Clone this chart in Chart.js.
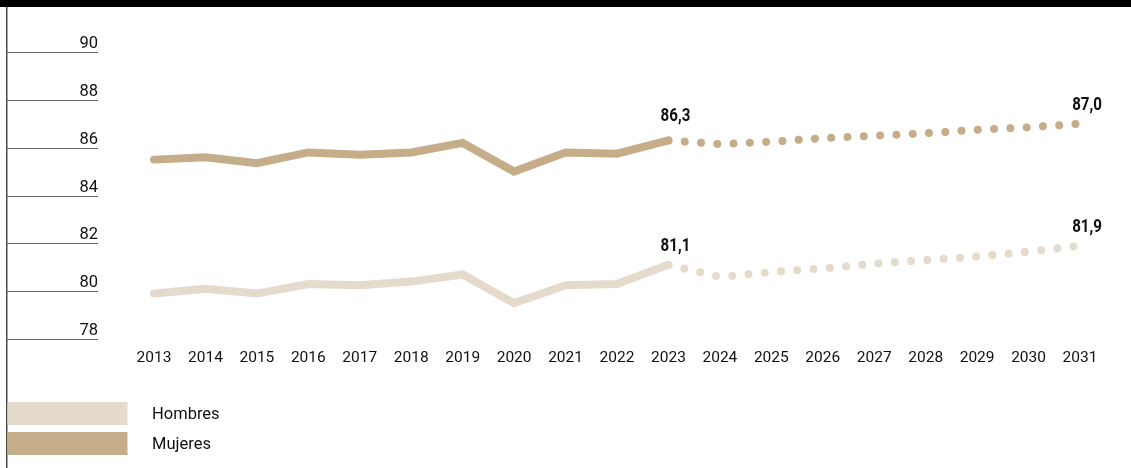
<!DOCTYPE html>
<html>
<head>
<meta charset="utf-8">
<script src="https://cdn.jsdelivr.net/npm/chart.js@4"></script>
<style>
  html, body { margin: 0; padding: 0; background: #fff; }
  #wrap { width: 1131px; height: 468px; position: relative; }
</style>
</head>
<body>
<div id="wrap"><canvas id="lifeChart" width="1131" height="468"></canvas></div>
<script>
var years = ['2013', '2014', '2015', '2016', '2017', '2018', '2019', '2020', '2021', '2022',
  '2023', '2024', '2025', '2026', '2027', '2028', '2029', '2030', '2031'];

// observed values (up to 2023)
var mujeresHist = [85.5, 85.6, 85.35, 85.8, 85.7, 85.8, 86.2, 85.0, 85.8, 85.75, 86.3,
  null, null, null, null, null, null, null, null];
var hombresHist = [79.9, 80.1, 79.9, 80.3, 80.25, 80.4, 80.7, 79.5, 80.25, 80.3, 81.1,
  null, null, null, null, null, null, null, null];

// projection (2023 onwards)
var mujeresProj = [null, null, null, null, null, null, null, null, null, null,
  86.3, 86.15, 86.25, 86.4, 86.5, 86.6, 86.75, 86.85, 87.0];
var hombresProj = [null, null, null, null, null, null, null, null, null, null,
  81.1, 80.6, 80.8, 80.95, 81.15, 81.3, 81.45, 81.65, 81.9];

var yTicks = [78, 80, 82, 84, 86, 88, 90];

var colMujeres = '#c4ad88';
var colHombres = '#e4dbcc';
var baseFont = 'Roboto, "Noto Sans", sans-serif';

// frame, short y gridlines and legend
var framePlugin = {
  id: 'frame',
  afterDraw: function(chart) {
    var ctx = chart.ctx;
    var y = chart.scales.y;
    ctx.save();
    ctx.fillStyle = '#000';
    ctx.fillRect(0, 0, chart.width, 7);
    ctx.fillStyle = '#4a4a4a';
    ctx.fillRect(6, 7, 1.5, chart.height - 7);

    ctx.font = '16.5px ' + baseFont;
    ctx.textAlign = 'right';
    ctx.textBaseline = 'alphabetic';
    for (var i = 0; i < yTicks.length; i++) {
      var py = Math.round(y.getPixelForValue(yTicks[i])) + 0.5;
      ctx.strokeStyle = '#666';
      ctx.lineWidth = 1;
      ctx.beginPath();
      ctx.moveTo(7, py);
      ctx.lineTo(98, py);
      ctx.stroke();
      ctx.fillStyle = '#111';
      ctx.fillText(String(yTicks[i]), 98, py - 5);
    }

    // legend
    var items = [chart.data.datasets[1], chart.data.datasets[0]];
    ctx.font = '16.5px ' + baseFont;
    ctx.textAlign = 'left';
    ctx.textBaseline = 'middle';
    for (var j = 0; j < items.length; j++) {
      var top = 402 + j * 30;
      ctx.fillStyle = items[j].borderColor;
      ctx.fillRect(7.5, top, 120, 23);
      ctx.fillStyle = '#111';
      ctx.fillText(items[j].label, 152, top + 12.5);
    }
    ctx.restore();
  }
};

// value labels at the end of each line (condensed bold)
var endLabelPlugin = {
  id: 'endLabels',
  afterDatasetsDraw: function(chart) {
    var ctx = chart.ctx;
    var lifts = [19, 14, 14, 14];
    chart.data.datasets.forEach(function(ds, di) {
      var last = -1;
      for (var k = 0; k < ds.data.length; k++) {
        if (ds.data[k] !== null) last = k;
      }
      if (last < 0) return;
      var pt = chart.getDatasetMeta(di).data[last];
      var txt = ds.data[last].toFixed(1).replace('.', ',');
      ctx.save();
      ctx.translate(pt.x + 7, pt.y - lifts[di]);
      ctx.scale(0.84, 1);
      ctx.font = 'bold 18px ' + baseFont;
      ctx.fillStyle = '#111';
      ctx.textAlign = 'center';
      ctx.textBaseline = 'alphabetic';
      ctx.fillText(txt, 0, 0);
      ctx.restore();
    });
  }
};

var ctx = document.getElementById('lifeChart').getContext('2d');
var chart = new Chart(ctx, {
  type: 'line',
  data: {
    labels: years,
    datasets: [{
      label: 'Mujeres',
      data: mujeresHist,
      borderColor: colMujeres,
      borderWidth: 8,
      borderCapStyle: 'round',
      borderJoinStyle: 'miter',
      pointRadius: 0,
      tension: 0
    }, {
      label: 'Hombres',
      data: hombresHist,
      borderColor: colHombres,
      borderWidth: 8,
      borderCapStyle: 'round',
      borderJoinStyle: 'miter',
      pointRadius: 0,
      tension: 0
    }, {
      label: 'Mujeres proyección',
      data: mujeresProj,
      borderColor: colMujeres,
      borderWidth: 8,
      borderCapStyle: 'round',
      borderDash: [0.01, 16.3],
      pointRadius: 0,
      tension: 0
    }, {
      label: 'Hombres proyección',
      data: hombresProj,
      borderColor: colHombres,
      borderWidth: 8,
      borderCapStyle: 'round',
      borderDash: [0.01, 16.3],
      pointRadius: 0,
      tension: 0
    }]
  },
  options: {
    responsive: false,
    animation: false,
    clip: false,
    layout: {
      padding: { left: 154, right: 51, top: 52, bottom: 99 }
    },
    plugins: {
      legend: { display: false },
      tooltip: { enabled: false }
    },
    scales: {
      x: {
        offset: false,
        grid: { display: false, drawTicks: false },
        border: { display: false },
        ticks: {
          color: '#111',
          font: { family: baseFont, size: 15.5 },
          padding: 10,
          maxRotation: 0,
          autoSkip: false
        },
        afterFit: function(s) { s.height = 30; }
      },
      y: {
        display: false,
        min: 78,
        max: 90
      }
    }
  },
  plugins: [framePlugin, endLabelPlugin]
});
</script>
</body>
</html>
